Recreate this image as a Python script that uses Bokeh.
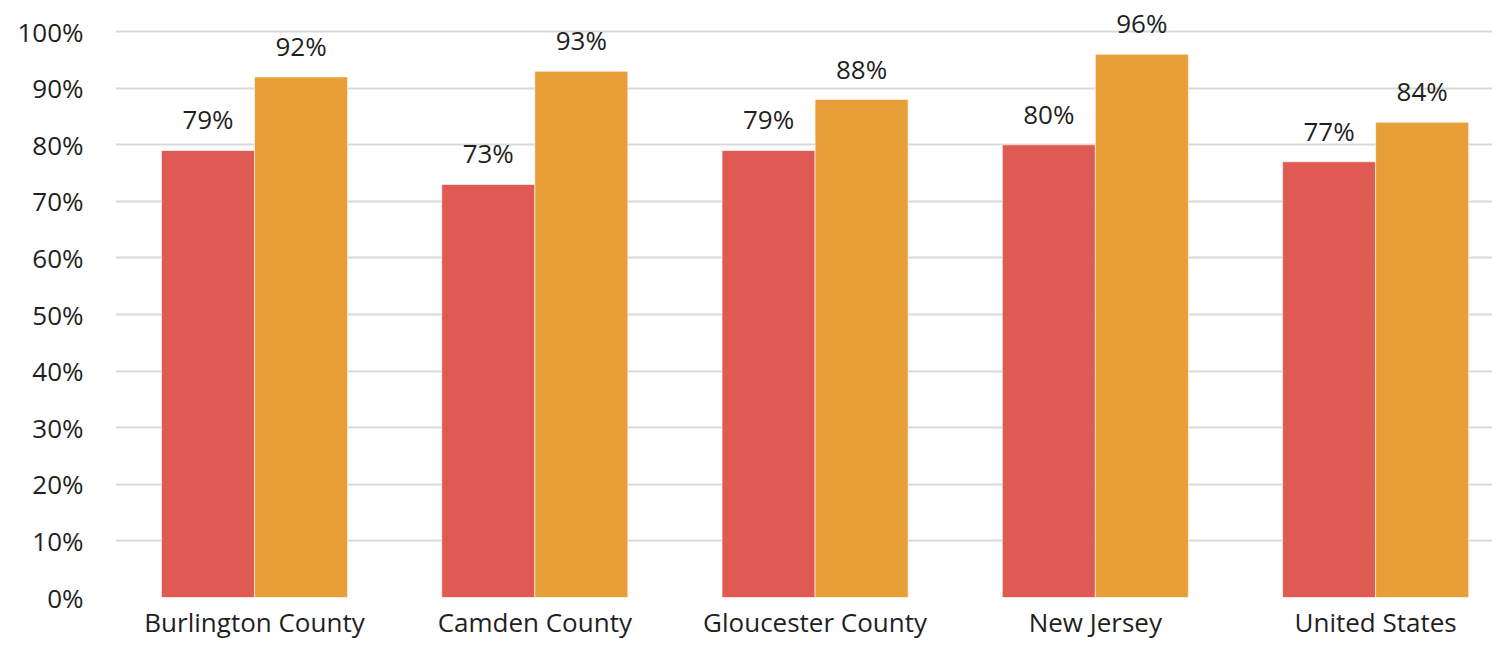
from bokeh.plotting import figure
from bokeh.models import ColumnDataSource, Range1d, FixedTicker, CustomJSTickFormatter, LabelSet
from bokeh.core.properties import value
from bokeh.embed import file_html
from bokeh.resources import INLINE

categories = ["Burlington County", "Camden County", "Gloucester County", "New Jersey", "United States"]
series_a = [79, 73, 79, 80, 77]
series_b = [92, 93, 88, 96, 84]
y_ticks = [0, 10, 20, 30, 40, 50, 60, 70, 80, 90, 100]

w = 0.332
xpos = [i + 0.5 for i in range(len(categories))]
src = ColumnDataSource(dict(
    x=xpos,
    xa=[x - w / 2 for x in xpos],
    xb=[x + w / 2 for x in xpos],
    a=series_a,
    b=series_b,
    a_lbl=[f"{v}%" for v in series_a],
    b_lbl=[f"{v}%" for v in series_b],
))

FONT = "Open Sans"
FS = "26px"
TXT = "#1f1f1f"

p = figure(x_range=Range1d(0.004, 4.917), y_range=Range1d(0, 105.5),
           width=1492, height=642, output_backend="svg", toolbar_location=None,
           min_border_left=115, min_border_right=0, min_border_top=0, min_border_bottom=44)
p.outline_line_color = None
p.background_fill_color = "white"
p.border_fill_color = "white"

red = "#E05A54"
orange = "#E99F38"
p.vbar(x="xa", top="a", width=w, bottom=0, source=src,
       fill_color=red, line_color="white", line_width=0.6)
p.vbar(x="xb", top="b", width=w, bottom=0, source=src,
       fill_color=orange, line_color="white", line_width=0.6)

for col, lbl, xc in (("a", "a_lbl", "xa"), ("b", "b_lbl", "xb")):
    ls = LabelSet(x=xc, y=col, text=lbl, source=src,
                  text_align="center", text_baseline="alphabetic", y_offset=21,
                  text_font=value(FONT), text_font_size=FS, text_color=TXT)
    p.add_layout(ls)

p.yaxis.ticker = FixedTicker(ticks=y_ticks)
p.yaxis.formatter = CustomJSTickFormatter(code="return tick.toFixed(0) + '%';")
p.xaxis.ticker = FixedTicker(ticks=xpos)
p.xaxis.major_label_overrides = {x: c for x, c in zip(xpos, categories)}
for ax in (p.xaxis, p.yaxis):
    ax.axis_line_color = None
    ax.major_tick_line_color = None
    ax.minor_tick_line_color = None
    ax.major_tick_out = 0
    ax.major_tick_in = 0
    ax.major_label_text_font = FONT
    ax.major_label_text_font_size = FS
    ax.major_label_text_color = TXT
p.yaxis.major_label_standoff = 32
p.xaxis.major_label_standoff = 6

p.xgrid.grid_line_color = None
p.ygrid.ticker = FixedTicker(ticks=y_ticks)
p.ygrid.grid_line_color = "#d9d9d9"
p.ygrid.grid_line_width = 2

open("out.html", "w").write(file_html(p, INLINE))
